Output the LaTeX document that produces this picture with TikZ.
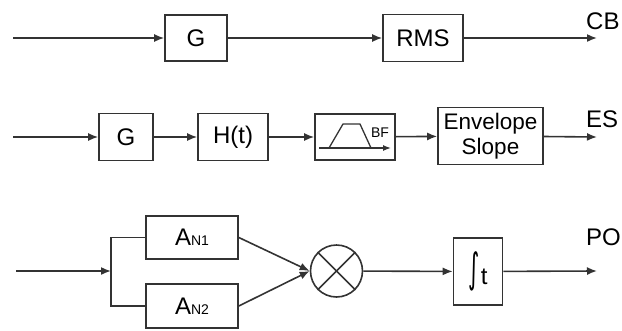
\documentclass[tikz,border=0pt]{standalone}
\usepackage{fontspec}
\usepackage{graphicx}
\setmainfont{Liberation Sans}
\newfontfamily\symfont{DejaVu Sans}
\usetikzlibrary{arrows.meta}
\definecolor{wire}{gray}{0.2}
\begin{document}
\begin{tikzpicture}[x=1pt, y=-1pt,
    block/.style={draw=wire, line width=1.6pt, rectangle, inner sep=0pt, font=\fontsize{24}{26}\selectfont},
    sig/.style={draw=wire, line width=1.6pt, -{Latex[length=10pt,width=8pt]}},
    wireline/.style={draw=wire, line width=1.6pt},
    outlabel/.style={anchor=south west, inner sep=0pt, font=\fontsize{24}{26}\selectfont}]
    \useasboundingbox (0,0) rectangle (622,330);
    % CB chain
    \coordinate (in1) at (13,38);
    \node[block, minimum width=62pt, minimum height=46pt] (g1) at (196,38) {G};
    \node[block, minimum width=80pt, minimum height=47pt] (rms) at (423,38) {RMS};
    \coordinate (out1) at (597,38);
    \draw[sig] (in1) -- (g1);
    \draw[sig] (g1) -- (rms);
    \draw[sig] (rms) -- (out1);
    \node[outlabel] (cb) at (586,30) {CB};
    % ES chain
    \coordinate (in2) at (13,137);
    \node[block, minimum width=54pt, minimum height=47pt] (g2) at (126,137) {G};
    \node[block, minimum width=70pt, minimum height=47pt] (ht) at (233,137) {H(t)};
    \node[block, minimum width=80pt, minimum height=46pt] (bf) at (355,137) {};
    \node[block, minimum width=105pt, minimum height=57pt, align=center,
          font=\fontsize{22.5}{25}\selectfont] (env) at (490.5,136) {Envelope\\Slope};
    \coordinate (out2) at (597,137);
    \draw[sig] (in2) -- (g2);
    \draw[sig] (g2) -- (ht);
    \draw[sig] (ht) -- (bf);
    \draw[sig] (bf) -- (env);
    \draw[sig] (env) -- (out2);
    \node[outlabel] (es) at (586,128) {ES};
    % band filter symbol
    \draw[wireline, line width=1.3pt, -{Latex[length=8pt,width=6pt]}] (319,148) -- (391,148);
    \draw[wireline, line width=1.3pt] (329,148) -- (343,124) -- (360,124) -- (371,148);
    \node[font=\fontsize{14}{14}\selectfont, inner sep=0pt] (bflabel) at (380,133) {BF};
    % PO chain
    \coordinate (in3) at (16,271);
    \coordinate (split) at (111,271);
    \node[block, minimum width=92pt, minimum height=43pt] (an1) at (192,237.5)
        {A{\fontsize{14}{14}\selectfont N1}};
    \node[block, minimum width=92pt, minimum height=44pt] (an2) at (192,306)
        {A{\fontsize{14}{14}\selectfont N2}};
    \node[draw=wire, line width=1.6pt, circle, minimum size=52pt, inner sep=0pt] (mult) at (336.5,271) {};
    \draw[wireline] (mult.north west) -- (mult.south east);
    \draw[wireline] (mult.north east) -- (mult.south west);
    \node[block, minimum width=49pt, minimum height=67pt] (integ) at (478,271.5)
        {\raisebox{-6pt}{\symfont\scalebox{0.9}[1.7]{∫}}\kern1pt\raisebox{-8pt}{t}};
    \coordinate (out3) at (597,271);
    \draw[sig] (in3) -- (split);
    \draw[wireline] (split) |- (an1.west);
    \draw[wireline] (split) |- (an2.west);
    \draw[sig] (an1.east) -- (mult.west);
    \draw[sig] (an2.east) -- (mult.west);
    \draw[sig] (mult) -- (integ);
    \draw[sig] (integ) -- (out3);
    \node[outlabel] (po) at (586,246) {PO};
\end{tikzpicture}
\end{document}
